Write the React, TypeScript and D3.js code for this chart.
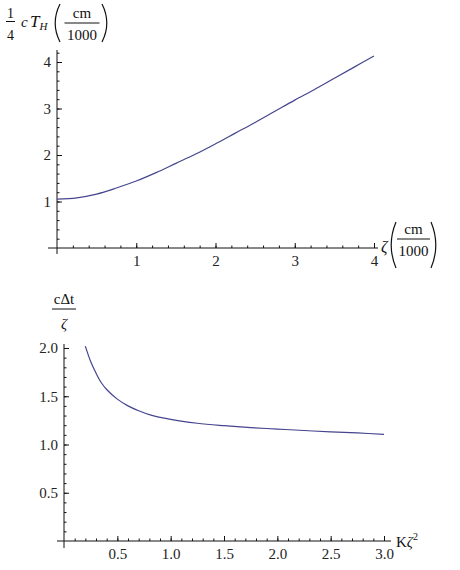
import { useEffect, useRef } from "react";
import * as d3 from "d3";

// top plot: (1/4) c T_H vs zeta
const zetaValues = [0, 0.25, 0.5, 0.75, 1.0, 1.25, 1.5, 1.75, 2.0, 2.25, 2.5, 2.75, 3.0, 3.25, 3.5, 3.75, 4.0];
const thValues = [1.05, 1.08, 1.16, 1.29, 1.44, 1.62, 1.82, 2.02, 2.24, 2.47, 2.7, 2.94, 3.18, 3.41, 3.65, 3.89, 4.13];
const topXTicks = [1, 2, 3, 4];
const topYTicks = [1, 2, 3, 4];

// bottom plot: c dt / zeta vs K zeta^2
const kzValues = [0.2, 0.25, 0.3, 0.35, 0.4, 0.5, 0.6, 0.7, 0.8, 1.0, 1.25, 1.5, 1.75, 2.0, 2.25, 2.5, 2.75, 3.0];
const dtValues = [2.02, 1.86, 1.74, 1.64, 1.57, 1.47, 1.4, 1.35, 1.31, 1.26, 1.22, 1.195, 1.175, 1.16, 1.145, 1.13, 1.12, 1.105];
const botXTicks = [0.5, 1.0, 1.5, 2.0, 2.5, 3.0];
const botYTicks = [0.5, 1.0, 1.5, 2.0];

const serif = "'Liberation Serif', 'DejaVu Serif', serif";
const lineColor = "#45458f";

function paren(g: any, x: number, y0: number, y1: number, dir: number) {
  // dir = 1 for "(", -1 for ")"
  const w = 6;
  const p = d3.path();
  p.moveTo(x + (dir > 0 ? w : 0), y0);
  p.quadraticCurveTo(x + (dir > 0 ? -w * 0.6 : w * 1.6), (y0 + y1) / 2, x + (dir > 0 ? w : 0), y1);
  g.append("path").attr("d", p.toString()).attr("fill", "none").attr("stroke", "#111").attr("stroke-width", 1.2);
}

function cmFraction(g: any, cx: number, barY: number, w: number) {
  g.append("text").attr("x", cx).attr("y", barY - 5).attr("text-anchor", "middle").text("cm");
  g.append("line").attr("x1", cx - w / 2).attr("x2", cx + w / 2).attr("y1", barY).attr("y2", barY).attr("stroke", "#111");
  g.append("text").attr("x", cx).attr("y", barY + 17).attr("text-anchor", "middle").text("1000");
}

const App = () => {
  const svgRef = useRef<SVGSVGElement>(null);

  useEffect(() => {
    const svg = d3.select(svgRef.current);
    svg.selectAll("*").remove();

    const drawPlot = (opts: any) => {
      const { x, y, xMinor, yMinor, xTicks, yTicks, fmt, xs, ys, xLine, yLine } = opts;
      const g = svg.append("g").attr("font-family", serif);
      const x0 = x.range()[0];
      const y0 = y.range()[0];

      // minor ticks
      g.append("g")
        .attr("transform", `translate(0,${y0})`)
        .call(d3.axisBottom(x).tickValues(xMinor).tickSize(-2.5).tickFormat(() => ""))
        .call((s: any) => s.select(".domain").remove());
      g.append("g")
        .attr("transform", `translate(${x0},0)`)
        .call(d3.axisLeft(y).tickValues(yMinor).tickSize(-2.5).tickFormat(() => ""))
        .call((s: any) => s.select(".domain").remove());

      // major ticks with labels
      g.append("g")
        .attr("transform", `translate(0,${y0})`)
        .call(d3.axisBottom(x).tickValues(xTicks).tickSize(-5).tickPadding(7).tickFormat(fmt))
        .call((s: any) => s.select(".domain").remove())
        .call((s: any) => s.selectAll("text").attr("font-size", 15).attr("font-family", serif).attr("fill", "#222"));
      g.append("g")
        .attr("transform", `translate(${x0},0)`)
        .call(d3.axisLeft(y).tickValues(yTicks).tickSize(-5).tickPadding(6).tickFormat(fmt))
        .call((s: any) => s.select(".domain").remove())
        .call((s: any) => s.selectAll("text").attr("font-size", 15).attr("font-family", serif).attr("fill", "#222"));
      g.selectAll(".tick line").attr("stroke", "#111");

      // axis lines
      g.append("line").attr("x1", xLine[0]).attr("x2", xLine[1]).attr("y1", y0).attr("y2", y0).attr("stroke", "#111");
      g.append("line").attr("x1", x0).attr("x2", x0).attr("y1", yLine[0]).attr("y2", yLine[1]).attr("stroke", "#111");

      const line = d3
        .line<number>()
        .x((_, i) => x(xs[i]))
        .y((d) => y(d))
        .curve(d3.curveCatmullRom);
      g.append("path").attr("d", line(ys)).attr("fill", "none").attr("stroke", lineColor).attr("stroke-width", 1.2);
      return g;
    };

    // top chart
    const xTop = d3.scaleLinear().domain([0, 4]).range([57, 374]);
    const yTop = d3.scaleLinear().domain([0, 4]).range([248, 62]);
    drawPlot({
      x: xTop,
      y: yTop,
      xMinor: d3.range(1, 21).map((i) => i * 0.2),
      yMinor: d3.range(1, 22).map((i) => i * 0.2),
      xTicks: topXTicks,
      yTicks: topYTicks,
      fmt: d3.format("d"),
      xs: zetaValues,
      ys: thValues,
      xLine: [48, 378],
      yLine: [50, 254],
    });

    // bottom chart
    const xBot = d3.scaleLinear().domain([0, 3]).range([64, 384]);
    const yBot = d3.scaleLinear().domain([0, 2]).range([541, 348]);
    drawPlot({
      x: xBot,
      y: yBot,
      xMinor: d3.range(1, 31).map((i) => i * 0.1),
      yMinor: d3.range(1, 21).map((i) => i * 0.1),
      xTicks: botXTicks,
      yTicks: botYTicks,
      fmt: d3.format(".1f"),
      xs: kzValues,
      ys: dtValues,
      xLine: [57, 391],
      yLine: [344, 548],
    });

    // axis labels
    const lab = svg.append("g").attr("font-family", serif).attr("font-size", 15).attr("fill", "#111");

    // top y label: 1/4 c T_H (cm/1000)
    lab.append("text").attr("x", 10.5).attr("y", 18).attr("text-anchor", "middle").attr("font-size", 14).text("1");
    lab.append("line").attr("x1", 6).attr("x2", 15).attr("y1", 21.5).attr("y2", 21.5).attr("stroke", "#111");
    lab.append("text").attr("x", 10.5).attr("y", 40).attr("text-anchor", "middle").attr("font-size", 14).text("4");
    lab.append("text").attr("x", 21).attr("y", 27).attr("font-style", "italic").text("c");
    const th = lab.append("text").attr("x", 30).attr("y", 27).attr("font-style", "italic").attr("font-size", 17);
    th.append("tspan").text("T");
    th.append("tspan").attr("font-size", 11).attr("dy", 3).text("H");
    paren(lab, 54, 4, 42, 1);
    cmFraction(lab, 82, 23, 35);
    paren(lab, 102, 4, 42, -1);

    // top x label: zeta (cm/1000)
    lab.append("text").attr("x", 381).attr("y", 252).attr("font-style", "italic").attr("font-size", 16).text("ζ");
    paren(lab, 390, 222, 268, 1);
    cmFraction(lab, 413.5, 239, 33);
    paren(lab, 431, 222, 268, -1);

    // bottom y label: c dt / zeta
    lab.append("text").attr("x", 64).attr("y", 304).attr("text-anchor", "middle").text("cΔt");
    lab.append("line").attr("x1", 52).attr("x2", 76).attr("y1", 309).attr("y2", 309).attr("stroke", "#111");
    lab.append("text").attr("x", 64).attr("y", 329).attr("text-anchor", "middle").attr("font-style", "italic").text("ζ");

    // bottom x label: K zeta^2
    const kz = lab.append("text").attr("x", 396).attr("y", 547);
    kz.append("tspan").text("K");
    kz.append("tspan").attr("font-style", "italic").text("ζ");
    kz.append("tspan").attr("font-size", 10).attr("dy", -7).text("2");
  }, []);

  return (
    <div style={{ position: "absolute", left: 0, top: 0 }}>
      <svg ref={svgRef} width={460} height={570} style={{ display: "block", background: "#fff" }}></svg>
    </div>
  );
};

export default App;
